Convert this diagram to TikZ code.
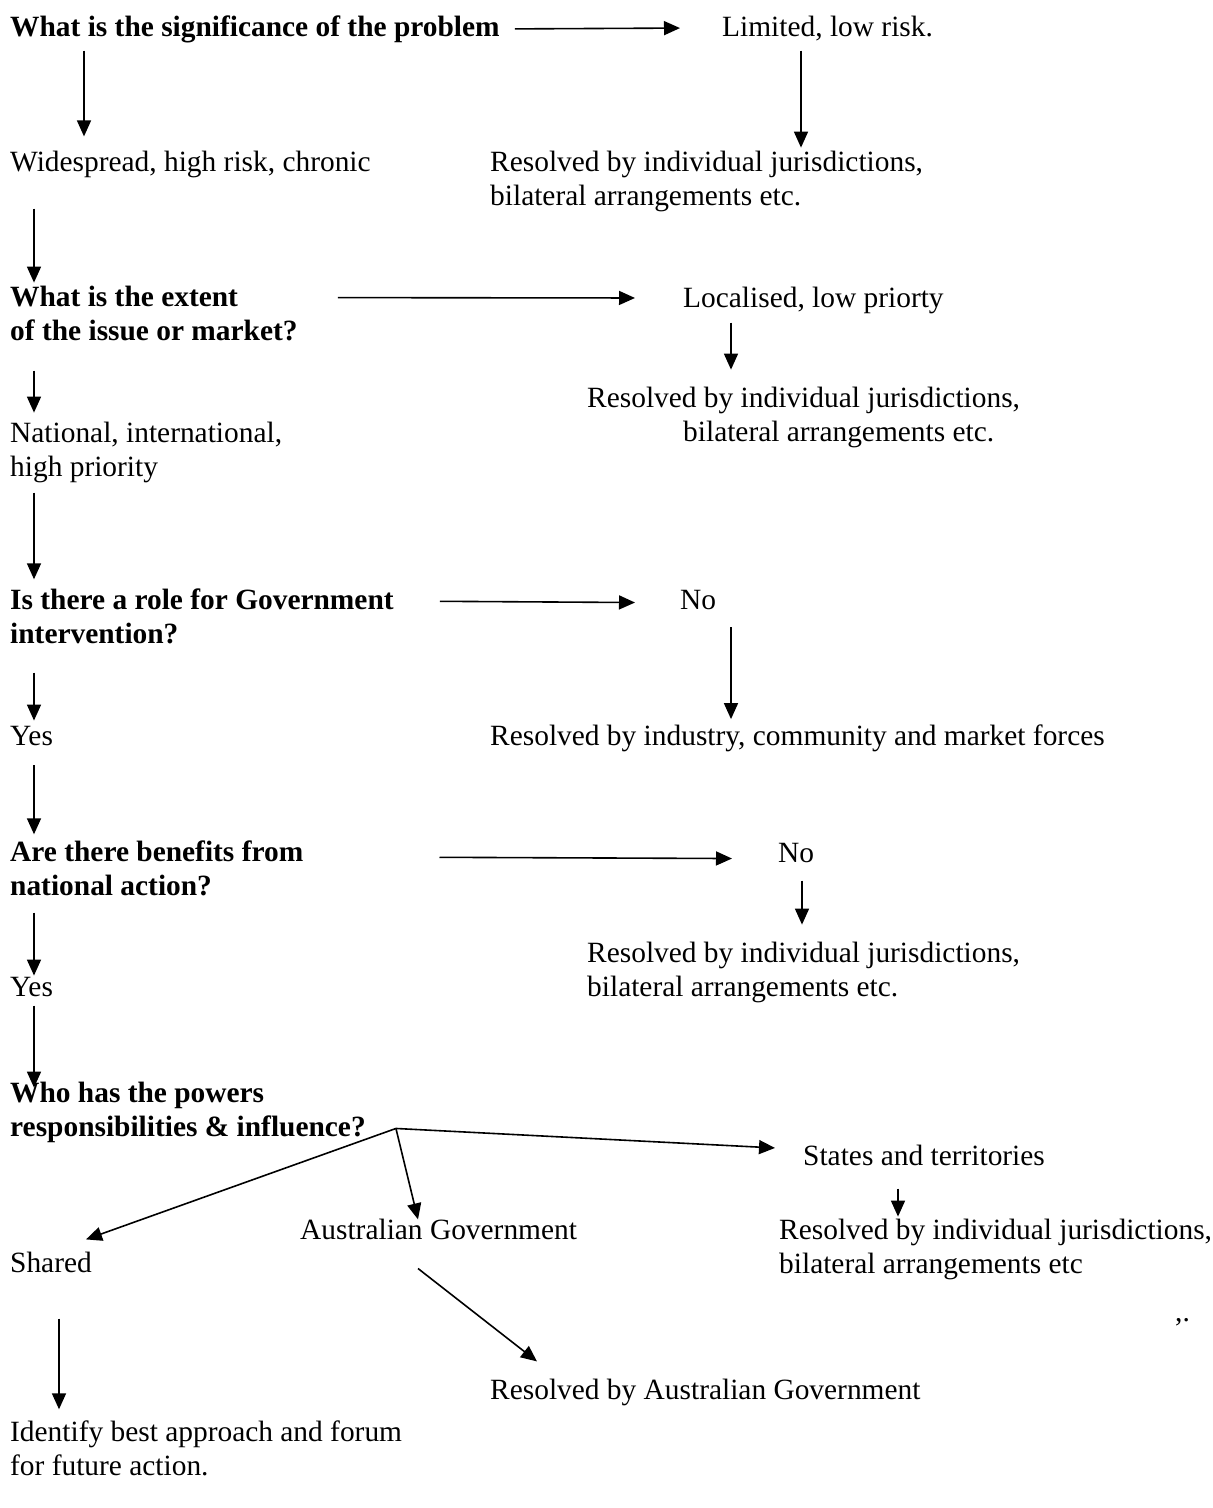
\documentclass[tikz,border=0pt]{standalone}
\usepackage{fontspec}
\setmainfont{Liberation Serif}
\usetikzlibrary{arrows.meta}

\begin{document}
\begin{tikzpicture}[x=1pt,y=-1pt,
    txt/.style={anchor=base west,inner sep=0pt,align=left,font=\fontsize{29.4}{33.8}\selectfont},
    qst/.style={txt,font=\fontsize{29.4}{33.8}\selectfont\bfseries},
    arr/.style={line width=1.6pt,-{Triangle[length=16pt,width=14pt]}}]
    \useasboundingbox (0,0) rectangle (1213,1508);

    % questions and answers down the left side (two-line nodes sit on their last line)
    \node[qst] (Q1) at (10,36) {What is the significance of the problem};
    \node[txt] (Wide) at (10,171) {Widespread, high risk, chronic};
    \node[qst] (Q2) at (10,340) {What is the extent\\of the issue or market?};
    \node[txt] (Nat) at (10,476) {National, international,\\high priority};
    \node[qst] (Q3) at (10,643) {Is there a role for Government\\intervention?};
    \node[txt] (Yes1) at (10,745) {Yes};
    \node[qst] (Q4) at (10,895) {Are there benefits from\\national action?};
    \node[txt] (Yes2) at (10,996) {Yes};
    \node[qst] (Q5) at (10,1136) {Who has the powers\\responsibilities \& influence?};

    % outcomes on the right
    \node[txt] (Lim) at (722,36) {Limited, low risk.};
    \node[txt] (Res1) at (490,205) {Resolved by individual jurisdictions,\\bilateral arrangements etc.};
    \node[txt] (Loc) at (683,307) {Localised, low priorty};
    \node[txt] (Res2) at (587,441) {Resolved by individual jurisdictions,\\\hspace*{96pt}bilateral arrangements etc.};
    \node[txt] (No1) at (680,609) {No};
    \node[txt] (Res3) at (490,745) {Resolved by industry, community and market forces};
    \node[txt] (No2) at (778,862) {No};
    \node[txt] (Res4) at (587,996) {Resolved by individual jurisdictions,\\bilateral arrangements etc.};

    % who acts
    \node[txt] (Sta) at (803,1165) {States and territories};
    \node[txt] (Aus) at (300,1239) {Australian Government};
    \node[txt] (Shr) at (10,1272) {Shared};
    \node[txt] (Res5) at (779,1273) {Resolved by individual jurisdictions,\\bilateral arrangements etc};
    \node[txt] (ResA) at (490,1399) {Resolved by Australian Government};
    \node[txt] (Idf) at (10,1475) {Identify best approach and forum\\for future action.};
    \node[txt] (Mark) at (1175,1321) {,.};

    \coordinate (Br) at ([xshift=30pt,yshift=14pt]Q5.south east);

    \path [arr] ([xshift=15pt]Q1.east) edge ([xshift=-42pt]Lim.west);
    \path [arr] ([xshift=74pt,yshift=-8pt]Q1.south west) edge ([xshift=74pt,yshift=14pt]Wide.north west);
    \path [arr] ([xshift=79pt,yshift=-10pt]Lim.south west) edge ([xshift=311pt,yshift=3pt]Res1.north west);
    \path [arr] ([xshift=24pt,yshift=-31pt]Wide.south west) edge ([xshift=24pt,yshift=3pt]Q2.north west);
    \path [arr] ([xshift=40pt,yshift=-12pt]Q2.north east) edge ([xshift=-48pt,yshift=2pt]Loc.west);
    \path [arr] ([xshift=48pt,yshift=-9pt]Loc.south west) edge ([xshift=144pt,yshift=17pt]Res2.north west);
    \path [arr] ([xshift=24pt,yshift=-30pt]Q2.south west) edge ([xshift=24pt,yshift=9pt]Nat.north west);
    \path [arr] ([xshift=24pt,yshift=-10pt]Nat.south west) edge ([xshift=24pt,yshift=9pt]Q3.north west);
    \path [arr] ([xshift=46pt,yshift=-13pt]Q3.north east) edge ([xshift=-45pt,yshift=-3pt]No1.west);
    \path [arr] ([xshift=51pt,yshift=-18pt]No1.south west) edge ([xshift=241pt,yshift=5pt]Res3.north west);
    \path [arr] ([xshift=24pt,yshift=-29pt]Q3.south west) edge ([xshift=24pt,yshift=5pt]Yes1.north west);
    \path [arr] ([xshift=24pt,yshift=-20pt]Yes1.south west) edge ([xshift=24pt,yshift=6pt]Q4.north west);
    \path [arr] ([xshift=136pt,yshift=-17pt]Q4.north east) edge ([xshift=-46pt,yshift=-6pt]No2.west);
    \path [arr] ([xshift=24pt,yshift=-18pt]No2.south west) edge ([xshift=215pt,yshift=17pt]Res4.north west);
    \path [arr] ([xshift=24pt,yshift=-17pt]Q4.south west) edge ([xshift=24pt,yshift=1pt]Yes2.north west);
    \path [arr] ([xshift=24pt,yshift=-9pt]Yes2.south west) edge ([xshift=24pt,yshift=-6pt]Q5.north west);
    \path [arr] (Br) edge ([xshift=-28pt,yshift=7pt]Sta.west);
    \path [arr] (Br) edge ([xshift=118pt,yshift=-1pt]Aus.north west);
    \path [arr] (Br) edge ([xshift=76pt,yshift=12pt]Shr.north west);
    \path [arr] ([xshift=95pt,yshift=-23pt]Sta.south west) edge ([xshift=119pt,yshift=2pt]Res5.north west);
    \path [arr] ([xshift=118pt,yshift=-29pt]Aus.south west) edge ([xshift=47pt,yshift=17pt]ResA.north west);
    \path [arr] ([xshift=49pt,yshift=-46pt]Shr.south west) edge ([xshift=49pt,yshift=11pt]Idf.north west);
\end{tikzpicture}
\end{document}
